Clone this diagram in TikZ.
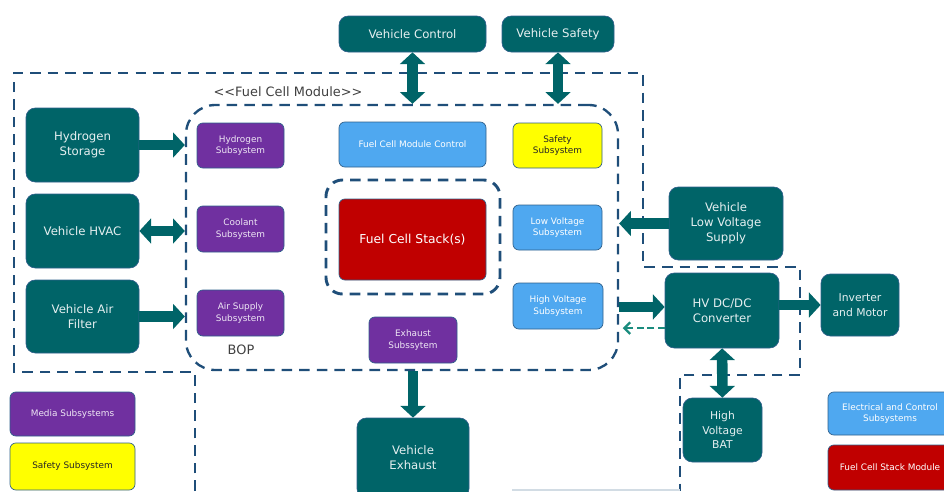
\documentclass[tikz,border=0pt]{standalone}
\usepackage{fontspec}
\setmainfont{DejaVu Sans}
\usetikzlibrary{arrows.meta}

\definecolor{fcteal}{HTML}{006468}
\definecolor{fcpurple}{HTML}{7030A0}
\definecolor{fcblue}{HTML}{4FA8F0}
\definecolor{fcred}{HTML}{C00000}
\definecolor{fcyellow}{HTML}{FFFF00}
\definecolor{dashblue}{HTML}{1F4E79}
\definecolor{backgreen}{HTML}{1A8C7E}
\definecolor{edgeblue}{HTML}{2E5F8A}

\tikzset{
  px/.style 2 args={minimum width=#1*0.03cm, minimum height=#2*0.03cm},
  box/.style={draw=edgeblue, line width=0.6pt, align=center, inner sep=1pt},
  vehbox/.style={box, rounded corners=8pt, fill=fcteal, text=white!90!fcteal, font=\fontsize{10}{13}\selectfont},
  smallveh/.style={vehbox, font=\fontsize{9.2}{12.5}\selectfont},
  subbox/.style={box, rounded corners=5pt, font=\fontsize{7.6}{9.5}\selectfont},
  mediabox/.style={subbox, fill=fcpurple, text=white!88!fcpurple},
  elecbox/.style={subbox, fill=fcblue, text=white},
  safebox/.style={subbox, fill=fcyellow, text=black!85},
  stackbox/.style={subbox, fill=fcred, text=white},
  dashframe/.style={draw=dashblue, line width=2pt, dash pattern=on 9pt off 6pt},
  flow/.style={draw=fcteal, line width=9pt, -{Triangle[width=21pt,length=10pt]}},
  flowboth/.style={flow, {Triangle[width=21pt,length=10pt]}-{Triangle[width=21pt,length=10pt]}},
  backflow/.style={draw=backgreen, line width=2pt, dash pattern=on 6pt off 3pt, -{Straight Barb[length=5pt,width=10pt]}},
  caption/.style={text=black!75, font=\fontsize{11}{13}\selectfont, inner sep=0pt}
}

\begin{document}
\begin{tikzpicture}[x=0.03cm, y=-0.03cm]
\useasboundingbox (0,0) rectangle (944,491);
\clip (0,0) rectangle (944,491);

% dashed frames
\draw[dashframe] (195,491) -- (195,372) -- (14,372) -- (14,73) -- (643,73) -- (643,267)
  -- (800,267) -- (800,375) -- (680,375) -- (680,491);
\draw[dashblue!20, line width=1.5pt] (512,490) -- (680,490);
\node[dashframe, rounded corners=25pt, px={432}{265}] (fcm) at (402,237.5) {};
\node[dashframe, line width=2.5pt, rounded corners=14pt, px={174}{114}] (stackframe) at (413,237) {};
\node[caption] (fcmlabel) at (288,92) {<{}<Fuel Cell Module>{}>};
\node[caption] (bop) at (241,350) {BOP};

% vehicle side
\node[vehbox, px={147}{36}] (vctrl) at (412.5,34) {Vehicle Control};
\node[vehbox, px={112}{36}] (vsafe) at (558,34) {Vehicle Safety};
\node[vehbox, px={113}{74}] (h2store) at (82.5,145) {Hydrogen\\Storage};
\node[vehbox, px={113}{74}] (hvac) at (82.5,231) {Vehicle HVAC};
\node[vehbox, px={113}{73}] (airfilt) at (82.5,316.5) {Vehicle Air\\Filter};
\node[vehbox, px={114}{73}] (lvsupply) at (726,223.5) {Vehicle\\Low Voltage\\Supply};
\node[vehbox, px={114}{75}] (hvdc) at (722,310.5) {HV DC/DC\\Converter};
\node[smallveh, px={78}{62}] (invmot) at (860,305) {Inverter\\and Motor};
\node[smallveh, px={79}{64}] (hvbat) at (722.5,430) {High\\Voltage\\BAT};
\node[vehbox, px={112}{80}] (vexh) at (413,458) {Vehicle\\Exhaust};

% fuel cell module
\node[mediabox, px={87}{45}] (h2sub) at (240.5,145.5) {Hydrogen\\Subsystem};
\node[mediabox, px={87}{46}] (coolsub) at (240.5,229) {Coolant\\Subsystem};
\node[mediabox, px={87}{46}] (airsub) at (240.5,313) {Air Supply\\Subsystem};
\node[elecbox, px={147}{45}] (fcmctrl) at (412.5,144.5) {Fuel Cell Module Control};
\node[safebox, px={89}{45}] (safesub) at (557.5,145.5) {Safety\\Subsystem};
\node[stackbox, px={147}{81}, font=\fontsize{10.5}{13}\selectfont] (stack) at (412.5,239.5) {Fuel Cell Stack(s)};
\node[elecbox, px={89}{45}] (lvsub) at (557.5,227.5) {Low Voltage\\Subsystem};
\node[elecbox, px={90}{46}] (hvsub) at (558,306) {High Voltage\\Subsystem};
\node[mediabox, px={88}{46}] (exhsub) at (413,340) {Exhaust\\Subssytem};

% legend
\node[mediabox, px={125}{44}] (legmedia) at (72.5,414) {Media Subsystems};
\node[safebox, px={125}{47}] (legsafe) at (72.5,466.5) {Safety Subsystem};
\node[elecbox, px={124}{43}] (legelec) at (890,413.5) {Electrical and Control\\Subsystems};
\node[stackbox, px={124}{45}] (legstack) at (890,467.5) {Fuel Cell Stack Module};

% flows
\coordinate (hvin) at ([yshift=3pt]hvdc.west);
\coordinate (hvback) at ([yshift=-15pt]hvdc.west);
\draw[flowboth] (vctrl) -- (vctrl |- fcm.north);
\draw[flowboth] (vsafe) -- (vsafe |- fcm.north);
\draw[flow] (h2store) -- (h2store -| fcm.west);
\draw[flowboth] (hvac) -- (hvac -| fcm.west);
\draw[flow] (airfilt) -- (airfilt -| fcm.west);
\draw[flow] (lvsupply) -- (lvsupply -| fcm.east);
\draw[flow] (hvin -| fcm.east) -- (hvin);
\draw[backflow, shorten >=3pt] (hvback) -- (hvback -| fcm.east);
\draw[flow] (hvdc.east |- invmot) -- (invmot);
\draw[flowboth] (hvdc) -- (hvbat);
\draw[flow] (exhsub |- fcm.south) -- (vexh);
\end{tikzpicture}
\end{document}
